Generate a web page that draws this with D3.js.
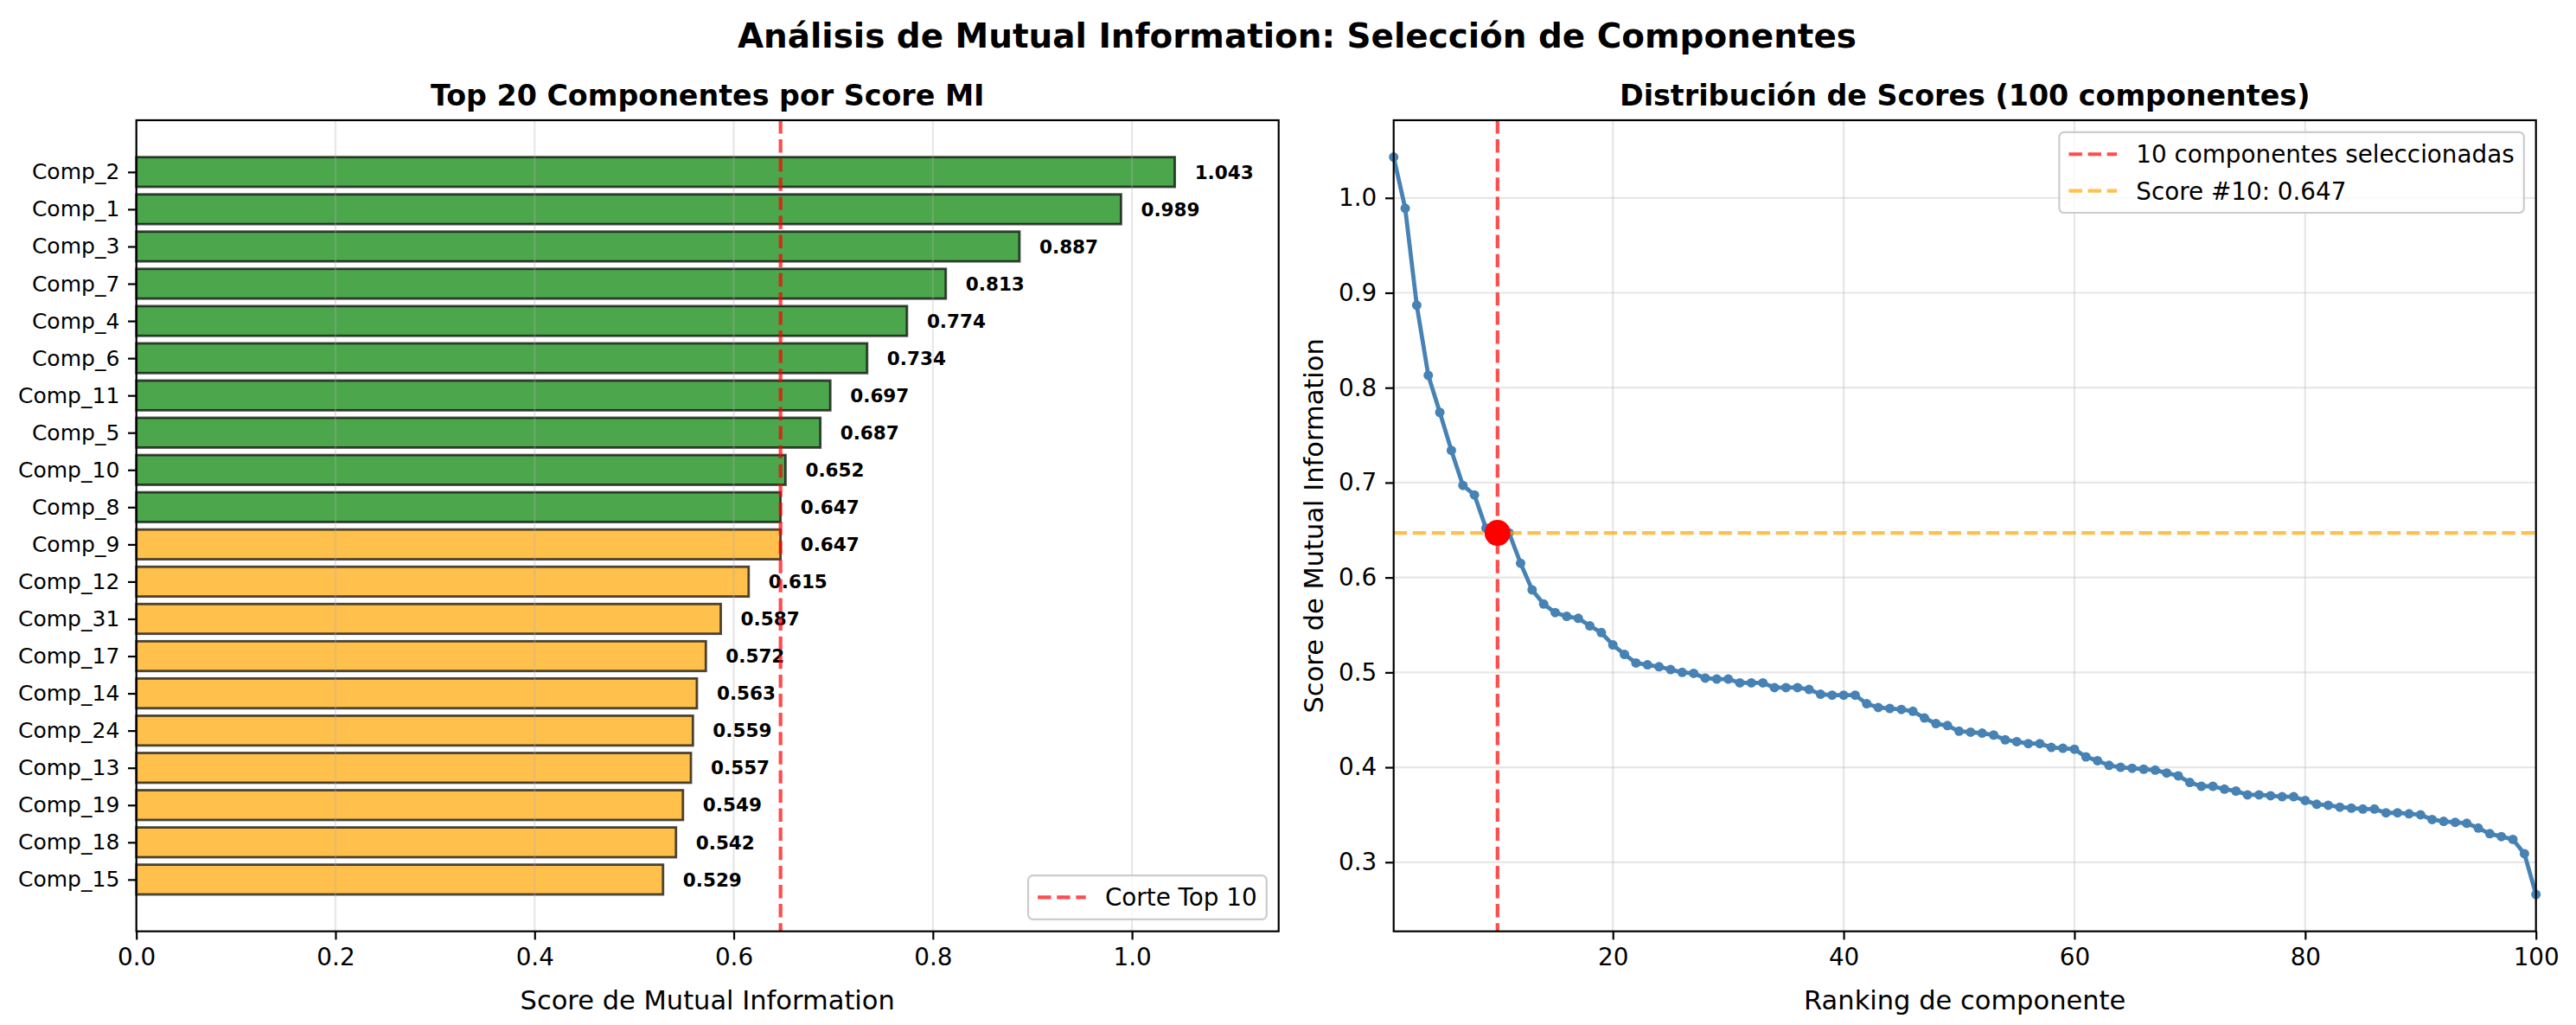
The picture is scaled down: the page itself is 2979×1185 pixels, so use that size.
<!DOCTYPE html>
<html lang="es">
<head>
<meta charset="UTF-8">
<title>Análisis de Mutual Information</title>
<style>
  body { margin: 0; background: #fff; }
  svg { font-family: "DejaVu Sans", sans-serif; display: block; }
</style>
</head>
<body>
<div id="chart"></div>
<script src="https://d3js.org/d3.v7.min.js"></script>
<script>
// top 20 components (sorted by MI score)
const topNames = ["Comp_2", "Comp_1", "Comp_3", "Comp_7", "Comp_4", "Comp_6", "Comp_11", "Comp_5", "Comp_10", "Comp_8",
  "Comp_9", "Comp_12", "Comp_31", "Comp_17", "Comp_14", "Comp_24", "Comp_13", "Comp_19", "Comp_18", "Comp_15"];
const topScores = [1.043, 0.989, 0.887, 0.813, 0.774, 0.734, 0.697, 0.687, 0.652, 0.647,
  0.647, 0.615, 0.587, 0.572, 0.563, 0.559, 0.557, 0.549, 0.542, 0.529];

// all 100 scores, sorted (ranks 1..100)
const sortedScores = [
  1.043, 0.989, 0.887, 0.813, 0.774, 0.734, 0.697, 0.687, 0.652, 0.647,
  0.647, 0.615, 0.587, 0.572, 0.563, 0.559, 0.557, 0.549, 0.542, 0.529,
  0.519, 0.510, 0.508, 0.506, 0.503, 0.500, 0.499, 0.494, 0.493, 0.493,
  0.489, 0.489, 0.489, 0.484, 0.484, 0.484, 0.482, 0.477, 0.476, 0.476,
  0.476, 0.467, 0.463, 0.462, 0.461, 0.459, 0.452, 0.446, 0.444, 0.438,
  0.437, 0.436, 0.434, 0.429, 0.427, 0.425, 0.425, 0.421, 0.420, 0.419,
  0.411, 0.407, 0.402, 0.400, 0.399, 0.398, 0.397, 0.394, 0.391, 0.384,
  0.380, 0.380, 0.377, 0.375, 0.371, 0.371, 0.370, 0.369, 0.369, 0.365,
  0.361, 0.360, 0.358, 0.357, 0.356, 0.356, 0.352, 0.352, 0.351, 0.350,
  0.345, 0.343, 0.342, 0.341, 0.336, 0.330, 0.327, 0.324, 0.309, 0.266];

const nSelected = 10;
const xTicksLeft = [0.0, 0.2, 0.4, 0.6, 0.8, 1.0];
const xTicksRight = [20, 40, 60, 80, 100];
const yTicksRight = [0.3, 0.4, 0.5, 0.6, 0.7, 0.8, 0.9, 1.0];

const W = 2979, H = 1185;
const tickLen = 9.7, tickPad = 9.7, spineW = 2.2;
const gridColor = "#b0b0b0";

const svg = d3.select("#chart").append("svg")
  .attr("width", W)
  .attr("height", H);

svg.append("rect").attr("width", W).attr("height", H).attr("fill", "#fff");

// axes boxes
const L = {x0: 157.7, x1: 1478.7, y0: 139, y1: 1076.7};
const R = {x0: 1611.7, x1: 2932.7, y0: 139, y1: 1076.7};

function styleAxis(g, fontSize) {
  g.select(".domain").remove();
  g.selectAll(".tick line").attr("stroke", "#000").attr("stroke-width", spineW);
  g.selectAll(".tick text").attr("fill", "#000").style("font-size", fontSize + "px")
    .style("font-family", "DejaVu Sans");
}

function legend(g, x1, y, anchorBottom, items) {
  const fs = 27.8, pad = 11.1, handle = 55.6, hpad = 22.2, rowH = 28.5, gap = 13.9;
  const lg = g.append("g");
  const box = lg.append("rect");
  const texts = [];
  items.forEach((it, i) => {
    const cy = pad + rowH / 2 + i * (rowH + gap);
    lg.append("line")
      .attr("x1", pad).attr("x2", pad + handle)
      .attr("y1", cy).attr("y2", cy)
      .attr("stroke", it.color).attr("stroke-opacity", 0.7)
      .attr("stroke-width", 4.2).attr("stroke-dasharray", "15.4,6.7");
    texts.push(lg.append("text")
      .attr("x", pad + handle + hpad).attr("y", cy).attr("dy", "0.36em")
      .style("font-size", fs + "px").text(it.label));
  });
  const tw = d3.max(texts, t => t.node().getComputedTextLength());
  const bw = pad + handle + hpad + tw + pad;
  const bh = pad * 2 + items.length * rowH + (items.length - 1) * gap;
  box.attr("width", bw).attr("height", bh).attr("rx", 5.5)
    .attr("fill", "#fff").attr("fill-opacity", 0.8)
    .attr("stroke", "#cccccc").attr("stroke-width", 2.2);
  const ty = anchorBottom ? y - bh : y;
  lg.attr("transform", `translate(${x1 - bw},${ty})`);
}

// ---------- left: bar chart ----------
const xL = d3.scaleLinear()
  .domain([0, d3.max(topScores) * 1.1])
  .range([L.x0, L.x1]);

const nb = topScores.length;
const yL = d3.scaleLinear()
  .domain([-0.4 - 0.05 * (nb - 0.2), nb - 0.6 + 0.05 * (nb - 0.2)])
  .range([L.y0, L.y1]);

const left = svg.append("g");

left.selectAll("rect.bar")
  .data(topScores)
  .enter().append("rect")
  .attr("class", "bar")
  .attr("x", xL(0))
  .attr("y", (d, i) => yL(i - 0.4))
  .attr("width", d => xL(d) - xL(0))
  .attr("height", yL(0.4) - yL(-0.4))
  .attr("fill", (d, i) => i < nSelected ? "green" : "orange")
  .attr("fill-opacity", 0.7)
  .attr("stroke", "#000")
  .attr("stroke-opacity", 0.7)
  .attr("stroke-width", 2.8);

// grid on x only (drawn above bars like matplotlib)
left.append("g")
  .selectAll("line")
  .data(xTicksLeft)
  .enter().append("line")
  .attr("x1", d => xL(d)).attr("x2", d => xL(d))
  .attr("y1", L.y0).attr("y2", L.y1)
  .attr("stroke", gridColor).attr("stroke-opacity", 0.3).attr("stroke-width", 2.2);

left.selectAll("text.val")
  .data(topScores)
  .enter().append("text")
  .attr("class", "val")
  .attr("x", d => xL(d + 0.02))
  .attr("y", (d, i) => yL(i))
  .attr("dy", "0.36em")
  .style("font-size", "21.5px")
  .style("font-weight", "bold")
  .text(d => d.toFixed(3));

left.append("line")
  .attr("x1", xL(topScores[nSelected - 1])).attr("x2", xL(topScores[nSelected - 1]))
  .attr("y1", L.y0).attr("y2", L.y1)
  .attr("stroke", "red").attr("stroke-opacity", 0.7)
  .attr("stroke-width", 4.2).attr("stroke-dasharray", "15.4,6.7");

left.append("g")
  .attr("transform", `translate(0,${L.y1})`)
  .call(d3.axisBottom(xL).tickValues(xTicksLeft).tickSize(tickLen).tickPadding(tickPad)
    .tickFormat(d3.format(".1f")))
  .call(g => styleAxis(g, 27.8));

left.append("g")
  .attr("transform", `translate(${L.x0},0)`)
  .call(d3.axisLeft(yL).tickValues(d3.range(nb)).tickSize(tickLen).tickPadding(tickPad)
    .tickFormat(i => topNames[i]))
  .call(g => styleAxis(g, 25));

left.append("rect")
  .attr("x", L.x0).attr("y", L.y0)
  .attr("width", L.x1 - L.x0).attr("height", L.y1 - L.y0)
  .attr("fill", "none").attr("stroke", "#000").attr("stroke-width", spineW);

left.append("text")
  .attr("x", (L.x0 + L.x1) / 2).attr("y", 122)
  .attr("text-anchor", "middle")
  .style("font-size", "33.3px").style("font-weight", "bold")
  .text("Top 20 Componentes por Score MI");

left.append("text")
  .attr("x", (L.x0 + L.x1) / 2).attr("y", 1167)
  .attr("text-anchor", "middle")
  .style("font-size", "30.5px")
  .text("Score de Mutual Information");

legend(left, L.x1 - 13.9, L.y1 - 13.9, true, [
  {color: "red", label: "Corte Top " + nSelected}
]);

// ---------- right: score distribution ----------
const ranks = d3.range(1, sortedScores.length + 1);
const yMin = d3.min(sortedScores), yMax = d3.max(sortedScores);
const yPad = (yMax - yMin) * 0.05;

const xR = d3.scaleLinear().domain([1, sortedScores.length]).range([R.x0, R.x1]);
const yR = d3.scaleLinear().domain([yMin - yPad, yMax + yPad]).range([R.y1, R.y0]);

const right = svg.append("g");

right.append("g")
  .selectAll("line")
  .data(xTicksRight)
  .enter().append("line")
  .attr("x1", d => xR(d)).attr("x2", d => xR(d))
  .attr("y1", R.y0).attr("y2", R.y1)
  .attr("stroke", gridColor).attr("stroke-opacity", 0.3).attr("stroke-width", 2.2);

right.append("g")
  .selectAll("line")
  .data(yTicksRight)
  .enter().append("line")
  .attr("x1", R.x0).attr("x2", R.x1)
  .attr("y1", d => yR(d)).attr("y2", d => yR(d))
  .attr("stroke", gridColor).attr("stroke-opacity", 0.3).attr("stroke-width", 2.2);

const plot = right.append("g");

plot.append("path")
  .datum(sortedScores)
  .attr("d", d3.line().x((d, i) => xR(ranks[i])).y(d => yR(d)))
  .attr("fill", "none")
  .attr("stroke", "steelblue")
  .attr("stroke-width", 4.8)
  .attr("stroke-linejoin", "round");

plot.selectAll("circle.pt")
  .data(sortedScores)
  .enter().append("circle")
  .attr("class", "pt")
  .attr("cx", (d, i) => xR(ranks[i]))
  .attr("cy", d => yR(d))
  .attr("r", 5.5)
  .attr("fill", "steelblue");

plot.append("line")
  .attr("x1", xR(nSelected)).attr("x2", xR(nSelected))
  .attr("y1", R.y0).attr("y2", R.y1)
  .attr("stroke", "red").attr("stroke-opacity", 0.7)
  .attr("stroke-width", 4.2).attr("stroke-dasharray", "15.4,6.7");

plot.append("line")
  .attr("x1", R.x0).attr("x2", R.x1)
  .attr("y1", yR(sortedScores[nSelected - 1])).attr("y2", yR(sortedScores[nSelected - 1]))
  .attr("stroke", "orange").attr("stroke-opacity", 0.7)
  .attr("stroke-width", 4.2).attr("stroke-dasharray", "15.4,6.7");

plot.append("circle")
  .attr("cx", xR(nSelected))
  .attr("cy", yR(sortedScores[nSelected - 1]))
  .attr("r", 15)
  .attr("fill", "red");

right.append("g")
  .attr("transform", `translate(0,${R.y1})`)
  .call(d3.axisBottom(xR).tickValues(xTicksRight).tickSize(tickLen).tickPadding(tickPad))
  .call(g => styleAxis(g, 27.8));

right.append("g")
  .attr("transform", `translate(${R.x0},0)`)
  .call(d3.axisLeft(yR).tickValues(yTicksRight).tickSize(tickLen).tickPadding(tickPad)
    .tickFormat(d3.format(".1f")))
  .call(g => styleAxis(g, 27.8));

right.append("rect")
  .attr("x", R.x0).attr("y", R.y0)
  .attr("width", R.x1 - R.x0).attr("height", R.y1 - R.y0)
  .attr("fill", "none").attr("stroke", "#000").attr("stroke-width", spineW);

right.append("text")
  .attr("x", (R.x0 + R.x1) / 2).attr("y", 122)
  .attr("text-anchor", "middle")
  .style("font-size", "33.3px").style("font-weight", "bold")
  .text(`Distribución de Scores (${sortedScores.length} componentes)`);

right.append("text")
  .attr("x", (R.x0 + R.x1) / 2).attr("y", 1167)
  .attr("text-anchor", "middle")
  .style("font-size", "30.5px")
  .text("Ranking de componente");

right.append("text")
  .attr("transform", `translate(1530,${(R.y0 + R.y1) / 2}) rotate(-90)`)
  .attr("text-anchor", "middle")
  .style("font-size", "30.5px")
  .text("Score de Mutual Information");

legend(right, R.x1 - 13.9, R.y0 + 13.9, false, [
  {color: "red", label: nSelected + " componentes seleccionadas"},
  {color: "orange", label: "Score #" + nSelected + ": " + sortedScores[nSelected - 1].toFixed(3)}
]);

// suptitle
svg.append("text")
  .attr("x", 1500).attr("y", 55)
  .attr("text-anchor", "middle")
  .style("font-size", "38.9px").style("font-weight", "bold")
  .text("Análisis de Mutual Information: Selección de Componentes");
</script>
</body>
</html>
